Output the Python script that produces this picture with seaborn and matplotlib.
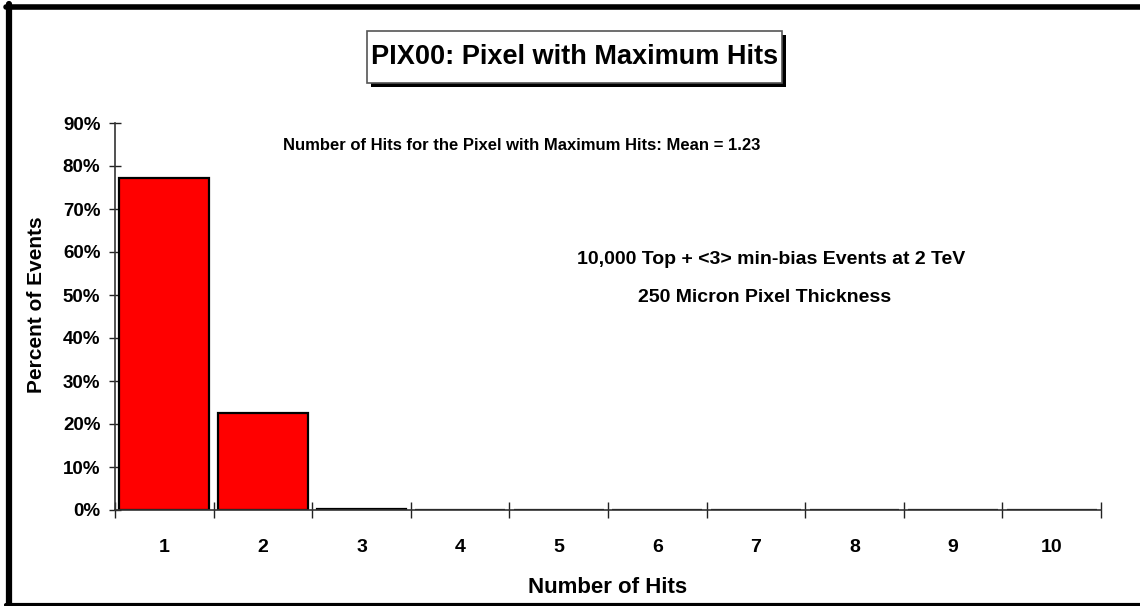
import matplotlib
matplotlib.use("Agg")
import matplotlib.pyplot as plt
from matplotlib.lines import Line2D
from matplotlib.patches import Rectangle
from matplotlib.ticker import FixedLocator, FuncFormatter, MultipleLocator
import seaborn as sns
import pandas as pd

hits = ["1", "2", "3", "4", "5", "6", "7", "8", "9", "10"]
percent = [77.2, 22.6, 0.25, 0.0, 0.0, 0.0, 0.0, 0.0, 0.0, 0.0]
title = "PIX00: Pixel with Maximum Hits"
note1 = "Number of Hits for the Pixel with Maximum Hits: Mean = 1.23"
note2 = "10,000 Top + <3> min-bias Events at 2 TeV"
note3 = "250 Micron Pixel Thickness"

sns.set_theme(style="white")
plt.rcParams["font.family"] = ["Liberation Sans", "DejaVu Sans"]
plt.rcParams["font.weight"] = "bold"
for k in ["text.color", "axes.labelcolor", "xtick.color", "ytick.color"]:
    plt.rcParams[k] = "black"

W, H = 1140, 606
fig = plt.figure(figsize=(W / 100, H / 100), dpi=100)
ax = fig.add_axes([115 / W, 1 - 510 / H, (1101 - 115) / W, (510 - 123) / H])

df = pd.DataFrame({"hits": hits, "percent": percent})
sns.barplot(data=df, x="hits", y="percent", order=hits, color="#ff0000",
            edgecolor="black", linewidth=1.6, width=0.91, saturation=1, ax=ax)

ax.set_xlim(-0.5, len(hits) - 0.5)
ax.set_ylim(0, 90)
ax.yaxis.set_major_locator(MultipleLocator(10))
ax.yaxis.set_major_formatter(FuncFormatter(lambda v, p: f"{v:.0f}%"))
ax.xaxis.set_minor_locator(FixedLocator([i - 0.5 for i in range(len(hits) + 1)]))

for s in ["top", "right"]:
    ax.spines[s].set_visible(False)
for s in ["left", "bottom"]:
    ax.spines[s].set_color("#333333")
    ax.spines[s].set_linewidth(1.2)

ax.tick_params(axis="y", which="major", direction="inout", length=9, width=1.0,
               color="#222222", labelsize=13.5, pad=6, left=True, labelcolor="black")
ax.tick_params(axis="x", which="major", length=0, labelsize=14, pad=21, labelcolor="black")
ax.tick_params(axis="x", which="minor", direction="inout", length=11, width=1.0,
               color="#222222", bottom=True)
for lab in ax.get_xticklabels() + ax.get_yticklabels():
    lab.set_fontweight("bold")

ax.set_xlabel("Number of Hits", fontsize=16, fontweight="bold", color="black")
ax.set_ylabel("Percent of Events", fontsize=15, fontweight="bold", color="black")
ax.xaxis.set_label_coords(0.5, (510 - 577) / 387)
ax.yaxis.set_label_coords((46 - 115) / 986, (510 - 305) / 387)
ax.grid(False)

# annotations
fig.text(522 / W, 1 - 146 / H, note1, ha="center", va="center", fontsize=12, fontweight="bold", color="black")
fig.text(771 / W, 1 - 260 / H, note2, ha="center", va="center", fontsize=14, fontweight="bold", color="black")
fig.text(765 / W, 1 - 297 / H, note3, ha="center", va="center", fontsize=14, fontweight="bold", color="black")

# title box with shadow
bx0, by0, bx1, by1 = 367, 31, 782, 83
fig.patches.append(Rectangle(((bx0 + 4) / W, 1 - (by1 + 4) / H), (bx1 - bx0) / W, (by1 - by0) / H,
                             transform=fig.transFigure, facecolor="black", edgecolor="none", zorder=1))
fig.patches.append(Rectangle((bx0 / W, 1 - by1 / H), (bx1 - bx0) / W, (by1 - by0) / H,
                             transform=fig.transFigure, facecolor="white", edgecolor="#555555",
                             linewidth=1.2, zorder=2))
fig.text((bx0 + bx1) / 2 / W, 1 - 57 / H, title, ha="center", va="center", fontsize=19.5,
         fontweight="bold", color="black", zorder=3)

# outer frame (left, top, bottom)
fig.add_artist(Line2D([9 / W, 9 / W], [0, 1 - 4 / H], transform=fig.transFigure, color="black", lw=4.5))
fig.add_artist(Line2D([6 / W, 1], [1 - 6.5 / H, 1 - 6.5 / H], transform=fig.transFigure, color="black", lw=4))
fig.add_artist(Line2D([6 / W, 1], [1.5 / H, 1.5 / H], transform=fig.transFigure, color="black", lw=3))

fig.savefig("out.png", dpi=100, facecolor="white")
